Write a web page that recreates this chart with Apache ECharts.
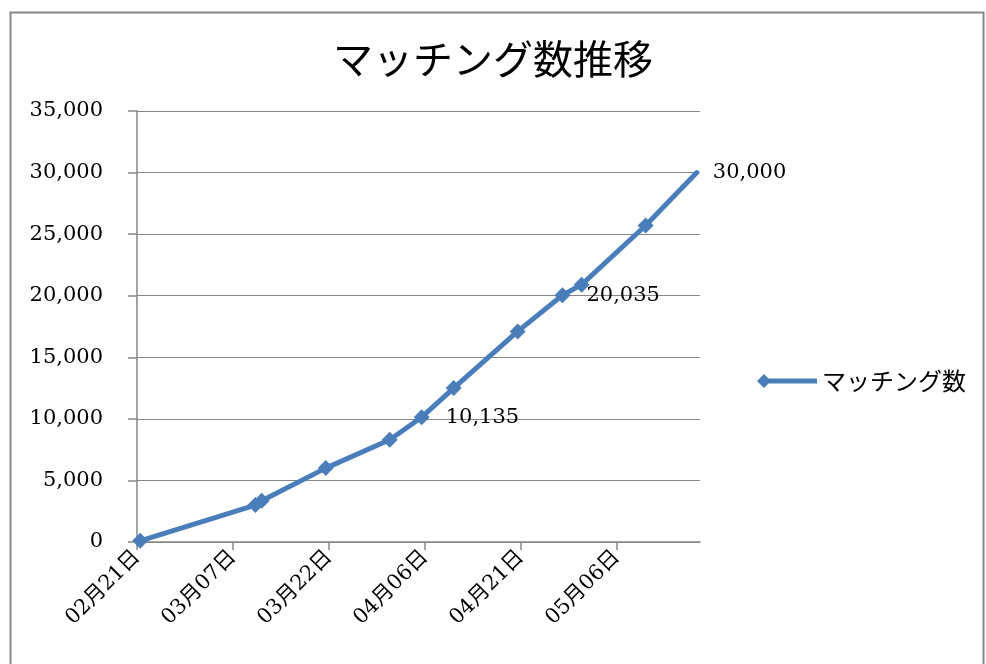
<!DOCTYPE html>
<html>
<head>
<meta charset="utf-8">
<title>マッチング数推移</title>
<script src="https://cdn.jsdelivr.net/npm/echarts@6/dist/echarts.min.js"></script>
<style>
	html, body { margin: 0; padding: 0; background: #fff; }
	#main { width: 986px; height: 664px; }
</style>
</head>
<body>
<div id="main"></div>
<script>
//データ
var baseYear = 2012; //うるう年（02/21→03/07が15日）
var startDate = '02/21';
var dates = ['02/21', '03/10', '03/11', '03/21', '03/31', '04/05', '04/10', '04/20', '04/27', '04/30', '05/10', '05/18'];
var counts = [100, 3000, 3350, 6000, 8300, 10135, 12500, 17100, 20035, 20900, 25700, 30000];
var labelDates = ['04/05', '04/27', '05/18'];
var tickDays = [0, 15, 30, 45, 60, 75];
var seriesName = 'マッチング数';

var DAY = 86400000;
var FONT = "'DejaVu Serif', 'Noto Sans CJK JP', serif";

function toTime(md) {
	var p = md.split('/');
	return Date.UTC(baseYear, parseInt(p[0], 10) - 1, parseInt(p[1], 10));
}
var t0 = toTime(startDate);

//日数 → "MM月DD日"
function dayLabel(d) {
	var dt = new Date(t0 + d * DAY);
	var m = dt.getUTCMonth() + 1, dd = dt.getUTCDate();
	return (m < 10 ? '0' : '') + m + '月' + (dd < 10 ? '0' : '') + dd + '日';
}

function comma(v) {
	return String(v).replace(/\B(?=(\d{3})+(?!\d))/g, ',');
}

var seriesData = [];
for(var i = 0; i < dates.length; i++) {
	var day = (toTime(dates[i]) - t0) / DAY + 0.5; //日の中央
	var item = { value: [day, counts[i]] };
	if(labelDates.indexOf(dates[i]) >= 0) {
		item.label = { show: true };
	}
	if(i == dates.length - 1) {
		item.symbolSize = 0.1; //最後の点はマーカーなし
	}
	seriesData.push(item);
}

var myChart = echarts.init(document.getElementById('main'));

var option = {
	animation: false,
	backgroundColor: '#ffffff',
	title: {
		text: 'マッチング数推移',
		left: 'center',
		top: 34,
		textStyle: {
			fontFamily: "'Noto Sans CJK JP', serif",
			fontSize: 40,
			fontWeight: 'normal',
			color: '#000'
		}
	},
	graphic: [{
		type: 'rect',
		left: 8,
		top: 10,
		shape: { width: 973, height: 700 },
		style: { fill: 'none', stroke: '#878787', lineWidth: 2 },
		silent: true
	}],
	legend: {
		left: 752,
		top: 364,
		itemWidth: 60,
		itemHeight: 14,
		itemGap: 6,
		data: [{
			name: seriesName,
			icon: 'path://M0,7L7,0L14,7L7,14Z M7,4.5L60,4.5L60,9.5L7,9.5Z'
		}],
		textStyle: {
			fontFamily: "'Noto Sans CJK JP', serif",
			fontSize: 24,
			color: '#000'
		}
	},
	grid: {
		left: 137,
		right: 286,
		top: 111,
		bottom: 122
	},
	xAxis: {
		type: 'value',
		min: 0,
		max: 88,
		axisLine: { show: true, lineStyle: { color: '#868686', width: 1.5 } },
		axisTick: {
			show: true,
			length: 8,
			customValues: tickDays,
			lineStyle: { color: '#868686', width: 1.5 }
		},
		splitLine: { show: false },
		axisLabel: {
			customValues: tickDays,
			rotate: 45,
			margin: 12,
			fontFamily: FONT,
			fontSize: 21,
			color: '#000',
			formatter: function(v) {
				return dayLabel(v);
			}
		}
	},
	yAxis: {
		type: 'value',
		min: 0,
		max: 35000,
		interval: 5000,
		axisLine: { show: true, lineStyle: { color: '#868686', width: 1.5 } },
		axisTick: { show: true, length: 9, lineStyle: { color: '#868686', width: 1.5 } },
		splitLine: { show: true, lineStyle: { color: '#868686', width: 1.2 } },
		axisLabel: {
			margin: 34,
			fontFamily: FONT,
			fontSize: 21,
			color: '#000',
			formatter: function(v) {
				return comma(v);
			}
		}
	},
	series: [{
		name: seriesName,
		type: 'line',
		data: seriesData,
		symbol: 'diamond',
		symbolSize: 16,
		showSymbol: true,
		lineStyle: { color: '#4A7EBB', width: 5, cap: 'round', join: 'round' },
		itemStyle: { color: '#4A7EBB', borderWidth: 0 },
		label: {
			show: false,
			position: 'right',
			distance: 16,
			fontFamily: FONT,
			fontSize: 21,
			color: '#000',
			formatter: function(p) {
				return comma(p.value[1]);
			}
		},
		labelLayout: { hideOverlap: false },
		emphasis: { disabled: true }
	}],
	color: ['#4A7EBB']
};
myChart.setOption(option);
</script>
</body>
</html>
